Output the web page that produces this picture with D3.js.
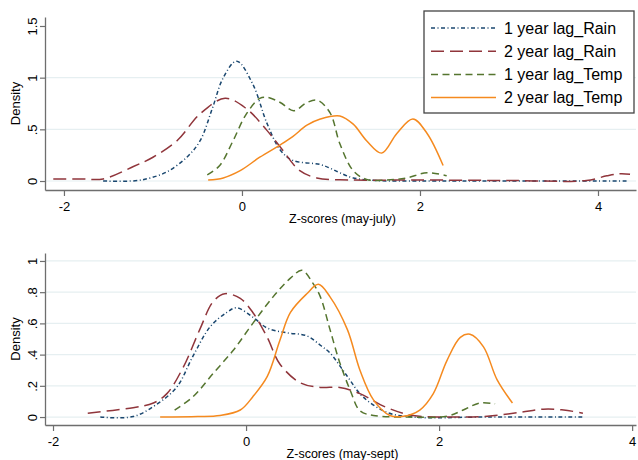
<!DOCTYPE html>
<html>
<head>
<meta charset="utf-8">
<script src="https://cdn.jsdelivr.net/npm/d3@7"></script>
<style>
  body { margin: 0; background: #fff; }
  svg text { font-family: "Liberation Sans", Arial, sans-serif; fill: #000; }
</style>
</head>
<body>
<svg id="chart" width="638" height="460"></svg>
<script>
// series names and styles
const seriesNames = ['1 year lag_Rain', '2 year lag_Rain', '1 year lag_Temp', '2 year lag_Temp'];
const seriesColors = ['#1a476f', '#90353b', '#55752f', '#f58a1f'];
const seriesDash = ['4,2.5,1,2.5', '13,6', '7,4.5', null];

// panel 1: z-scores may-july, [z, density]
const julyRain1 = [[-1.56,0],[-1.2,0.002],[-1.03,0.03],[-0.84,0.09],[-0.62,0.23],[-0.47,0.39],[-0.33,0.71],
  [-0.21,1.0],[-0.06,1.16],[0.12,0.94],[0.28,0.56],[0.43,0.3],[0.57,0.2],[0.88,0.16],[1.0,0.12],[1.1,0.08],
  [1.25,0.03],[1.5,0.005],[2.0,0],[3.0,0],[4.33,0]];
const julyRain2 = [[-2.12,0.02],[-1.8,0.02],[-1.56,0.02],[-1.22,0.14],[-1.0,0.23],[-0.73,0.39],[-0.47,0.65],
  [-0.19,0.8],[0.05,0.7],[0.28,0.49],[0.43,0.33],[0.65,0.1],[0.84,0.03],[1.2,0.01],[2.0,0.01],[3.0,0.005],
  [3.87,0.005],[4.1,0.05],[4.25,0.07],[4.36,0.065]];
const julyTemp1 = [[-0.39,0.06],[-0.25,0.15],[-0.1,0.39],[0.05,0.65],[0.2,0.8],[0.28,0.81],[0.43,0.76],
  [0.58,0.68],[0.73,0.76],[0.85,0.78],[0.99,0.66],[1.1,0.36],[1.25,0.1],[1.4,0.015],[1.63,0.01],
  [1.85,0.03],[2.08,0.08],[2.3,0.05]];
const julyTemp2 = [[-0.38,0.01],[-0.21,0.03],[-0.02,0.1],[0.2,0.23],[0.43,0.35],[0.57,0.43],[0.73,0.54],
  [0.88,0.6],[1.1,0.63],[1.25,0.55],[1.4,0.39],[1.57,0.27],[1.74,0.46],[1.92,0.6],[2.08,0.46],[2.26,0.15]];

// panel 2: z-scores may-sept
const septRain1 = [[-1.51,0],[-1.17,0.003],[-0.93,0.08],[-0.72,0.19],[-0.55,0.39],[-0.37,0.58],[-0.2,0.67],
  [-0.1,0.7],[0.07,0.64],[0.22,0.57],[0.42,0.54],[0.63,0.52],[0.77,0.46],[0.87,0.41],[1.05,0.26],
  [1.21,0.13],[1.46,0.03],[1.73,0.0],[2.5,0],[3.49,0]];
const septRain2 = [[-1.64,0.025],[-1.17,0.06],[-0.96,0.09],[-0.82,0.15],[-0.65,0.32],[-0.48,0.56],[-0.34,0.74],
  [-0.22,0.79],[-0.06,0.76],[0.07,0.67],[0.22,0.51],[0.35,0.34],[0.56,0.22],[0.77,0.19],[0.97,0.19],
  [1.18,0.15],[1.46,0.06],[1.73,0.01],[2.15,0.0],[2.5,0.005],[2.84,0.03],[3.08,0.05],[3.29,0.045],[3.49,0.025]];
const septTemp1 = [[-0.74,0.045],[-0.55,0.13],[-0.34,0.28],[-0.13,0.43],[0.07,0.6],[0.28,0.77],[0.46,0.89],
  [0.58,0.94],[0.69,0.86],[0.77,0.77],[0.87,0.56],[0.97,0.35],[1.08,0.17],[1.18,0.04],[1.32,0.01],
  [1.7,0.0],[2.08,0.005],[2.25,0.045],[2.42,0.09],[2.58,0.085]];
const septTemp2 = [[-0.89,0],[-0.5,0.003],[-0.27,0.01],[-0.06,0.045],[0.07,0.13],[0.22,0.26],[0.35,0.49],
  [0.46,0.67],[0.63,0.79],[0.75,0.85],[0.87,0.77],[1.05,0.56],[1.18,0.3],[1.32,0.11],[1.49,0.01],
  [1.63,0.005],[1.8,0.045],[1.94,0.15],[2.08,0.36],[2.22,0.51],[2.32,0.53],[2.46,0.45],[2.6,0.24],[2.76,0.09]];

const xTicks = [-2, 0, 2, 4];
const yTicksJuly = [0, 0.5, 1, 1.5];
const yTicksSept = [0, 0.2, 0.4, 0.6, 0.8, 1];
const fmtY = d => d === 0 ? '0' : String(d).replace(/^0\./, '.');

const svg = d3.select('#chart');

const panels = [
  {series: [julyRain1, julyRain2, julyTemp1, julyTemp2], title: 'Z-scores (may-july)',
   xDomain: [-2.213, 4.427], yDomain: [-0.087, 1.587], top: 17, bottom: 190,
   yTicks: yTicksJuly, grid: [0, 0.5, 1]},
  {series: [septRain1, septRain2, septTemp1, septTemp2], title: 'Z-scores (may-sept)',
   xDomain: [-2.083, 4.04], yDomain: [-0.051, 1.051], top: 253, bottom: 425,
   yTicks: yTicksSept, grid: yTicksSept}
];

const left = 45, right = 636;

panels.forEach(p => {
  const x = d3.scaleLinear().domain(p.xDomain).range([left, right]);
  const y = d3.scaleLinear().domain(p.yDomain).range([p.bottom, p.top]);
  const g = svg.append('g');

  // grid lines
  g.selectAll('line.grid')
    .data(p.grid)
    .join('line')
      .attr('x1', left).attr('x2', right)
      .attr('y1', d => y(d)).attr('y2', d => y(d))
      .attr('stroke', '#e6eff1').attr('stroke-width', 1.2);

  // y axis
  const ya = g.append('g')
    .attr('transform', `translate(${left},0)`)
    .call(d3.axisLeft(y).tickValues(p.yTicks).tickFormat(fmtY).tickSize(5).tickSizeOuter(0));
  ya.select('.domain').attr('stroke', '#6e6e6e').attr('stroke-width', 1.3);
  ya.selectAll('.tick line').attr('stroke', '#6e6e6e').attr('stroke-width', 1.2);
  ya.selectAll('.tick text')
    .attr('font-size', 13)
    .attr('text-anchor', 'middle')
    .attr('x', 0).attr('dy', 0)
    .attr('transform', 'translate(-13,0) rotate(-90)')
    .attr('dominant-baseline', 'central');

  // x axis
  const xa = g.append('g')
    .attr('transform', `translate(0,${p.bottom})`)
    .call(d3.axisBottom(x).tickValues(xTicks).tickFormat(d => String(d)).tickSize(6).tickSizeOuter(0));
  xa.select('.domain').attr('stroke', '#6e6e6e').attr('stroke-width', 1.3);
  xa.selectAll('.tick line').attr('stroke', '#6e6e6e').attr('stroke-width', 1.2);
  xa.selectAll('.tick text').attr('font-size', 13).attr('y', 9).attr('dy', '0.9em');

  // axis titles
  g.append('text')
    .attr('x', (left + right) / 2 + 2).attr('y', p.bottom + 33)
    .attr('text-anchor', 'middle').attr('font-size', 12.5)
    .text(p.title);
  g.append('text')
    .attr('transform', `translate(20,${(p.top + p.bottom) / 2}) rotate(-90)`)
    .attr('text-anchor', 'middle').attr('font-size', 13)
    .text('Density');

  // density curves
  const line = d3.line()
    .x(d => x(d[0]))
    .y(d => y(d[1]))
    .curve(d3.curveCatmullRom.alpha(0.5));

  g.selectAll('path.curve')
    .data(p.series)
    .join('path')
      .attr('class', 'curve')
      .attr('d', line)
      .attr('fill', 'none')
      .attr('stroke', (d, i) => seriesColors[i])
      .attr('stroke-width', 1.5)
      .attr('stroke-dasharray', (d, i) => seriesDash[i]);
});

// legend
const lg = svg.append('g').attr('transform', 'translate(424,11)');
lg.append('rect')
  .attr('width', 210).attr('height', 102)
  .attr('fill', '#fff').attr('stroke', '#444').attr('stroke-width', 1.3);
const rows = lg.selectAll('g.row')
  .data(seriesNames)
  .join('g')
    .attr('transform', (d, i) => `translate(0,${17 + i * 23.2})`);
rows.append('line')
  .attr('x1', 7).attr('x2', 72)
  .attr('stroke', (d, i) => seriesColors[i])
  .attr('stroke-width', 1.5)
  .attr('stroke-dasharray', (d, i) => seriesDash[i]);
rows.append('text')
  .attr('x', 80).attr('dy', '0.35em')
  .attr('font-size', 16)
  .text(d => d);
</script>
</body>
</html>
